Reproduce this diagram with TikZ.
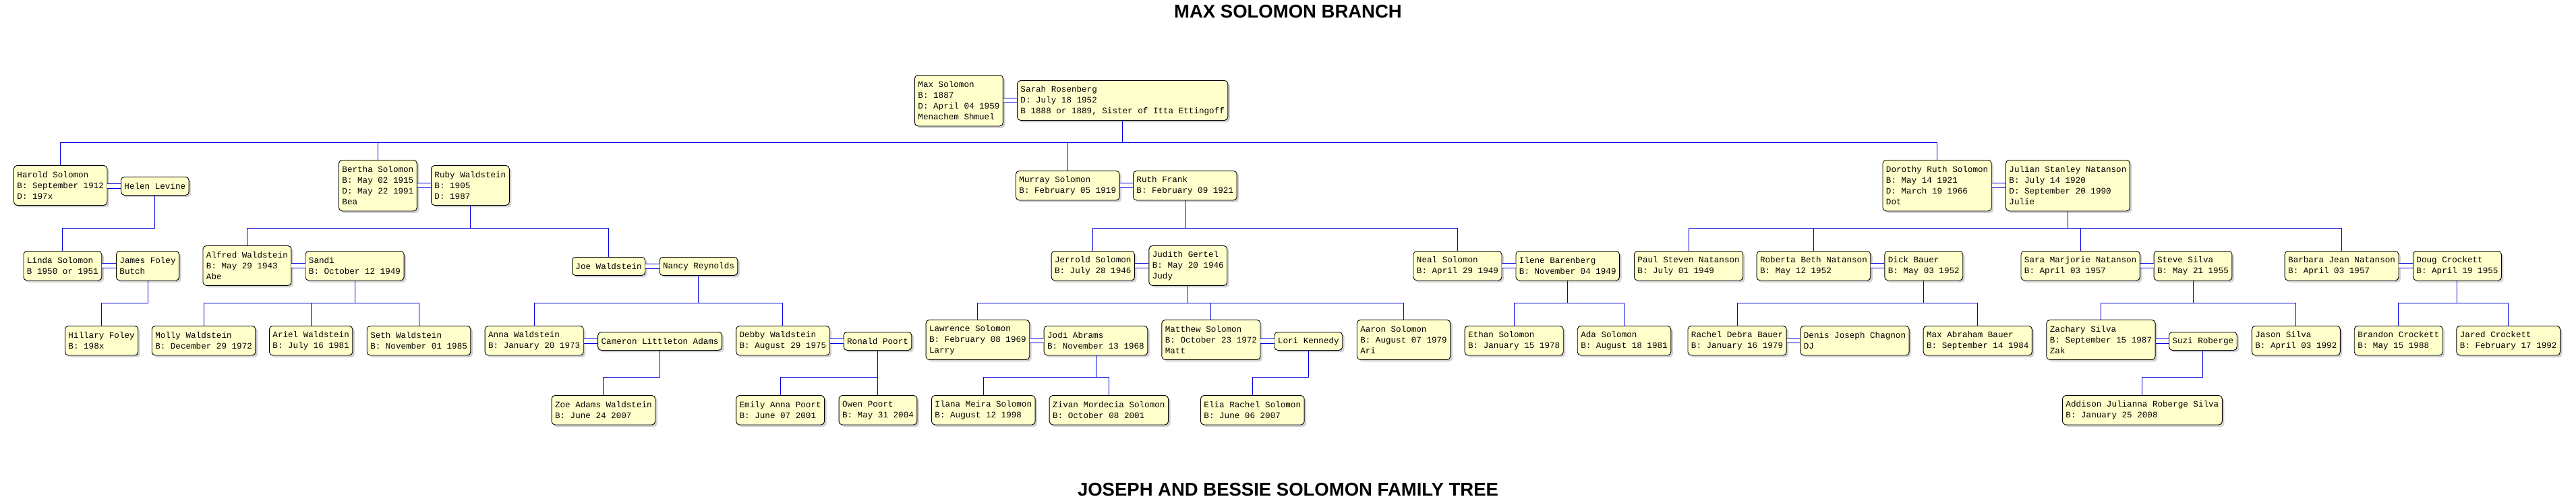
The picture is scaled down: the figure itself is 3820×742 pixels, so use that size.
\documentclass[tikz,border=0pt]{standalone}
\usepackage{fontspec}
\usetikzlibrary{shadows}
\newfontfamily\cardfont{Liberation Mono}
\newfontfamily\headfont{Liberation Sans}
\definecolor{cardfill}{HTML}{FFFFCC}
\definecolor{linkblue}{HTML}{0000E0}

\begin{document}
\begin{tikzpicture}[x=1pt,y=-1pt,
  person/.style={draw,rounded corners=5pt,line width=0.9pt,fill=cardfill,
                 anchor=north west,align=left,inner xsep=5pt,inner ysep=2pt,
                 font=\cardfont\fontsize{12.6}{16}\selectfont,
                 drop shadow={shadow xshift=3pt,shadow yshift=-3pt,fill=black!18,opacity=1}},
  one/.style={person,minimum height=27pt},
  two/.style={person,minimum height=43.5pt},
  three/.style={person,minimum height=59pt},
  four/.style={person,minimum height=75.5pt},
  link/.style={draw=linkblue,line width=1pt},
  wed/.style={link,double=white,double distance=5.6pt},
  title/.style={font=\headfont\bfseries\fontsize{27.5}{30}\selectfont}
]
\useasboundingbox (0,0) rectangle (3820,742);

\node[title] (head) at (1910,17) {MAX SOLOMON BRANCH};
\node[title] (foot) at (1910,726) {JOSEPH AND BESSIE SOLOMON FAMILY TREE};

\coordinate (g1) at (0,211.7);
\coordinate (g2) at (0,338.3);
\coordinate (g3) at (0,449.3);
\coordinate (g4) at (0,559.3);

\node[four] (max) at (1356,111) {Max Solomon\\B: 1887\\D: April 04 1959\\Menachem Shmuel};
\node[three] (sarah) at (1508,119) {Sarah Rosenberg\\D: July 18 1952\\B 1888 or 1889, Sister of Itta Ettingoff};

\node[three] (harold) at (20,245) {Harold Solomon\\B: September 1912\\D: 197x};
\node[one] (helen) at (179,262) {Helen Levine};
\node[four] (bertha) at (502,237) {Bertha Solomon\\B: May 02 1915\\D: May 22 1991\\Bea};
\node[three] (ruby) at (639,245) {Ruby Waldstein\\B: 1905\\D: 1987};
\node[two] (murray) at (1506,253) {Murray Solomon\\B: February 05 1919};
\node[two] (ruth) at (1680,253) {Ruth Frank\\B: February 09 1921};
\node[four] (dorothy) at (2791.5,237) {Dorothy Ruth Solomon\\B: May 14 1921\\D: March 19 1966\\Dot};
\node[four] (julian) at (2974,237) {Julian Stanley Natanson\\B: July 14 1920\\D: September 20 1990\\Julie};

\node[two] (linda) at (34.5,372) {Linda Solomon\\B 1950 or 1951};
\node[two] (james) at (172,372) {James Foley\\Butch};
\node[three] (alfred) at (300.5,364) {Alfred Waldstein\\B: May 29 1943\\Abe};
\node[two] (sandi) at (452.5,372) {Sandi\\B: October 12 1949};
\node[one] (joe) at (848,381) {Joe Waldstein};
\node[one] (nancy) at (977.6,381) {Nancy Reynolds};
\node[two] (jerrold) at (1558.6,372) {Jerrold Solomon\\B: July 28 1946};
\node[three] (judith) at (1703.4,364) {Judith Gertel\\B: May 20 1946\\Judy};
\node[two] (neal) at (2095.5,372) {Neal Solomon\\B: April 29 1949};
\node[two] (ilene) at (2247.5,372) {Ilene Barenberg\\B: November 04 1949};
\node[two] (paul) at (2423,372) {Paul Steven Natanson\\B: July 01 1949};
\node[two] (roberta) at (2604.6,372) {Roberta Beth Natanson\\B: May 12 1952};
\node[two] (dick) at (2794.4,372) {Dick Bauer\\B: May 03 1952};
\node[two] (sara) at (2996.5,372) {Sara Marjorie Natanson\\B: April 03 1957};
\node[two] (steve) at (3193.6,372) {Steve Silva\\B: May 21 1955};
\node[two] (barbara) at (3387.7,372) {Barbara Jean Natanson\\B: April 03 1957};
\node[two] (doug) at (3578,372) {Doug Crockett\\B: April 19 1955};

\node[two] (hillary) at (96,483) {Hillary Foley\\B: 198x};
\node[two] (molly) at (224.8,483) {Molly Waldstein\\B: December 29 1972};
\node[two] (ariel) at (399,483) {Ariel Waldstein\\B: July 16 1981};
\node[two] (seth) at (543.8,483) {Seth Waldstein\\B: November 01 1985};
\node[two] (anna) at (718.7,483) {Anna Waldstein\\B: January 20 1973};
\node[one] (cameron) at (886.2,492) {Cameron Littleton Adams};
\node[two] (debby) at (1091.2,483) {Debby Waldstein\\B: August 29 1975};
\node[one] (ronald) at (1250.7,492) {Ronald Poort};
\node[three] (lawrence) at (1372.6,474) {Lawrence Solomon\\B: February 08 1969\\Larry};
\node[two] (jodi) at (1547.7,483) {Jodi Abrams\\B: November 13 1968};
\node[three] (matthew) at (1722.4,474) {Matthew Solomon\\B: October 23 1972\\Matt};
\node[one] (lori) at (1889.5,492) {Lori Kennedy};
\node[three] (aaron) at (2011.8,474) {Aaron Solomon\\B: August 07 1979\\Ari};
\node[two] (ethan) at (2171.7,483) {Ethan Solomon\\B: January 15 1978};
\node[two] (ada) at (2338.8,483) {Ada Solomon\\B: August 18 1981};
\node[two] (rachel) at (2502.5,483) {Rachel Debra Bauer\\B: January 16 1979};
\node[two] (denis) at (2669.4,483) {Denis Joseph Chagnon\\DJ};
\node[two] (maxb) at (2851.7,483) {Max Abraham Bauer\\B: September 14 1984};
\node[three] (zachary) at (3034.4,474) {Zachary Silva\\B: September 15 1987\\Zak};
\node[one] (suzi) at (3216,492) {Suzi Roberge};
\node[two] (jason) at (3338.9,483) {Jason Silva\\B: April 03 1992};
\node[two] (brandon) at (3490.8,483) {Brandon Crockett\\B: May 15 1988};
\node[two] (jared) at (3642.4,483) {Jared Crockett\\B: February 17 1992};

\node[two] (zoe) at (817.6,586) {Zoe Adams Waldstein\\B: June 24 2007};
\node[two] (emily) at (1091.2,586) {Emily Anna Poort\\B: June 07 2001};
\node[two] (owen) at (1243.6,586) {Owen Poort\\B: May 31 2004};
\node[two] (ilana) at (1381,586) {Ilana Meira Solomon\\B: August 12 1998};
\node[two] (zivan) at (1555.7,586) {Zivan Mordecia Solomon\\B: October 08 2001};
\node[two] (elia) at (1780,586) {Elia Rachel Solomon\\B: June 06 2007};
\node[two] (addison) at (3058,586) {Addison Julianna Roberge Silva\\B: January 25 2008};

\foreach \a/\b in {max/sarah,harold/helen,bertha/ruby,murray/ruth,dorothy/julian,
  linda/james,alfred/sandi,joe/nancy,jerrold/judith,neal/ilene,roberta/dick,
  sara/steve,barbara/doug,anna/cameron,debby/ronald,lawrence/jodi,matthew/lori,
  rachel/denis,zachary/suzi}
  \draw[wed] (\b.west -| \a.east) -- (\b.west);

\foreach \p/\g/\kid in {sarah/g1/harold,sarah/g1/bertha,sarah/g1/murray,sarah/g1/dorothy,
  helen/g2/linda,ruby/g2/alfred,ruby/g2/joe,ruth/g2/jerrold,ruth/g2/neal,
  julian/g2/paul,julian/g2/roberta,julian/g2/sara,julian/g2/barbara,
  james/g3/hillary,sandi/g3/molly,sandi/g3/ariel,sandi/g3/seth,
  nancy/g3/anna,nancy/g3/debby,judith/g3/lawrence,judith/g3/matthew,judith/g3/aaron,
  ilene/g3/ethan,ilene/g3/ada,dick/g3/rachel,dick/g3/maxb,
  steve/g3/zachary,steve/g3/jason,doug/g3/brandon,doug/g3/jared,
  cameron/g4/zoe,ronald/g4/emily,ronald/g4/owen,jodi/g4/ilana,jodi/g4/zivan,
  lori/g4/elia,suzi/g4/addison}
  \draw[link] (\p.south) |- (\kid.north |- \g) -- (\kid.north);
\end{tikzpicture}
\end{document}
